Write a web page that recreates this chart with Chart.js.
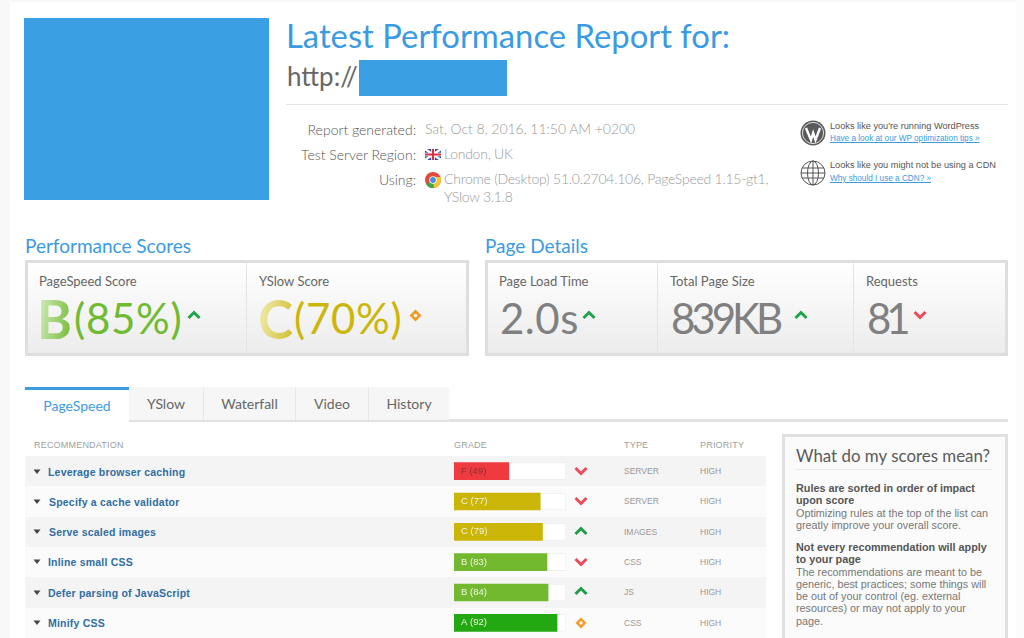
<!DOCTYPE html>
<html>
<head>
<meta charset="utf-8">
<title>Latest Performance Report</title>
<script src="https://cdn.jsdelivr.net/npm/chart.js@4"></script>
<style>
  html, body { margin: 0; padding: 0; background: #fff; overflow: hidden; }
  #page { position: relative; width: 1024px; height: 638px; overflow: hidden; font-family: Lato, "Open Sans", sans-serif; }
  .a { position: absolute; white-space: nowrap; line-height: 1; }
  .box { position: absolute; box-sizing: border-box; }
  .panel { position: absolute; box-sizing: border-box; top: 260px; height: 96px; border: 3px solid #dedede; background: linear-gradient(#ffffff, #ececec); }
  .sep { position: absolute; top: 263px; height: 90px; width: 1px; background: #e4e4e4; }
  .blue { color: #3b9be2; }
  .lbl { font-size: 13px; color: #666; top: 275px; }
  .big { font-size: 42px; top: 297px; font-weight: 400; color: #808080; }
  .meta-l { font-size: 14px; color: #555; text-align: right; right: 608px; font-weight: 300; }
  .meta-v { font-size: 14px; color: #9a9a9a; font-weight: 300; letter-spacing: -0.25px; }
  .tab { position: absolute; top: 387px; height: 33px; box-sizing: border-box; background: #f6f6f6; border-right: 1px solid #e8e8e8; color: #666; font-size: 14px; text-align: center; line-height: 33px; }
  .th { font: 9px "Liberation Sans", Arial, sans-serif; color: #a0a0a0; top: 440px; letter-spacing: 0.2px; }
  .row { position: absolute; left: 25px; width: 741px; height: 30.33px; }
  .rule { font: bold 10.5px "Liberation Sans", Arial, sans-serif; color: #2f6ea3; letter-spacing: 0.2px; }
  .cell { font: 8.5px "Liberation Sans", Arial, sans-serif; color: #999; }
  .side { font: 10.8px/12.25px "Liberation Sans", Arial, sans-serif; color: #777; left: 796px; white-space: nowrap; position: absolute; }
  .side b { color: #555; }
  .note { font-size: 9.2px; color: #555; font-family: "Liberation Sans", Arial, sans-serif; }
  .note-link { font-size: 8.2px; color: #3b9be2; text-decoration: underline; font-family: "Liberation Sans", Arial, sans-serif; }
</style>
</head>
<body>
<div id="page">
  <div class="box" style="left:0;top:0;width:10px;height:638px;background:#f8f8f8"></div>
  <div class="box" style="left:1016px;top:0;width:8px;height:638px;background:#fcfcfc"></div>
  <div class="box" style="left:10px;top:0;width:1006px;height:2px;background:#f8f8f8"></div>

  <div class="box" style="left:24px;top:18px;width:245px;height:182px;background:#3a9fe3"></div>
  <div class="a blue" style="left:286px;top:20px;font-size:32.8px;font-weight:400">Latest Performance Report for:</div>
  <div class="a" style="left:287px;top:63px;font-size:26px;color:#666;font-weight:400">http://</div>
  <div class="box" style="left:359px;top:60px;width:148px;height:36px;background:#3a9fe3"></div>
  <div class="box" style="left:286px;top:104px;width:722px;height:1px;background:#e6e6e6"></div>

  <div class="a meta-l" style="top:123px">Report generated:</div>
  <div class="a meta-l" style="top:148px">Test Server Region:</div>
  <div class="a meta-l" style="top:173px">Using:</div>
  <div class="a meta-v" style="left:425px;top:122px;letter-spacing:-0.05px">Sat, Oct 8, 2016, 11:50 AM +0200</div>
  <svg class="a" style="left:425px;top:149px" width="16" height="11" viewBox="0 0 16 11">
    <rect width="16" height="11" fill="#2d4f9e"/>
    <path d="M0 0L16 11M16 0L0 11" stroke="#fff" stroke-width="2.4"/>
    <path d="M8 0V11M0 5.5H16" stroke="#fff" stroke-width="3.6"/>
    <path d="M8 0V11M0 5.5H16" stroke="#d8303c" stroke-width="2"/>
  </svg>
  <div class="a meta-v" style="left:444px;top:147px">London, UK</div>
  <svg class="a" style="left:425px;top:172px" width="16" height="16" viewBox="0 0 16 16">
    <circle cx="8" cy="8" r="8" fill="#e24a3b"/>
    <path d="M8 8L1 12A8 8 0 0 0 9 16Z" fill="#3da54a"/>
    <path d="M8 8L9 16A8 8 0 0 0 15.5 5H8Z" fill="#f4c430"/>
    <circle cx="8" cy="8" r="3.8" fill="#fff"/>
    <circle cx="8" cy="8" r="2.9" fill="#4a8be0"/>
  </svg>
  <div class="a meta-v" style="left:444px;top:172px">Chrome (Desktop) 51.0.2704.106, PageSpeed 1.15-gt1,</div>
  <div class="a meta-v" style="left:444px;top:190px">YSlow 3.1.8</div>

  <svg class="a" style="left:800px;top:120px" width="26" height="26" viewBox="0 0 26 26">
    <circle cx="13" cy="13" r="12.5" fill="#5a5a5a"/>
    <circle cx="13" cy="13" r="10.6" fill="none" stroke="#fff" stroke-width="0.8"/>
    <path d="M6 8L11 20L13.2 13L15.5 20L20 8" fill="none" stroke="#fff" stroke-width="2.4"/>
  </svg>
  <div class="a note" style="left:830px;top:122px">Looks like you're running WordPress</div>
  <div class="a note-link" style="left:830px;top:135px">Have a look at our WP optimization tips »</div>
  <svg class="a" style="left:800px;top:160px" width="26" height="26" viewBox="0 0 26 26" fill="none" stroke="#555" stroke-width="1">
    <circle cx="13" cy="13" r="12"/>
    <ellipse cx="13" cy="13" rx="5.5" ry="12"/>
    <path d="M13 1V25M2 8H24M1 13H25M2 18H24"/>
  </svg>
  <div class="a note" style="left:830px;top:161px">Looks like you might not be using a CDN</div>
  <div class="a note-link" style="left:830px;top:175px">Why should I use a CDN? »</div>

  <div class="a blue" style="left:25px;top:236px;font-size:19px">Performance Scores</div>
  <div class="panel" style="left:25px;width:444px"></div>
  <div class="sep" style="left:246px"></div>
  <div class="a lbl" style="left:39px">PageSpeed Score</div>
  <div class="a lbl" style="left:259px">YSlow Score</div>
  <div class="a" style="left:37px;top:292px;font-size:53px;font-weight:700;color:transparent;background:linear-gradient(100deg,#dbeec6,#6fb92f);-webkit-background-clip:text;background-clip:text">B</div>
  <div class="a big" style="left:74px;color:#6fbb32;letter-spacing:0.7px">(85%)</div>
  <div class="a" style="left:258px;top:292px;font-size:53px;font-weight:700;color:transparent;background:linear-gradient(100deg,#f3efb8,#cfbd2c);-webkit-background-clip:text;background-clip:text">C</div>
  <div class="a big" style="left:294px;color:#cdb60a;letter-spacing:0.7px">(70%)</div>
  <svg class="a" style="left:187px;top:310px" width="14" height="10"><path d="M1.5 8L7 2.5L12.5 8" fill="none" stroke="#1fa34a" stroke-width="3"/></svg>
  <svg class="a" style="left:409px;top:309px" width="13" height="13"><path d="M6.5 0.5L12.5 6.5L6.5 12.5L0.5 6.5Z" fill="#f59a23"/><circle cx="6.5" cy="6.5" r="1.8" fill="#fff"/></svg>

  <div class="a blue" style="left:485px;top:236px;font-size:19px">Page Details</div>
  <div class="panel" style="left:485px;width:523px"></div>
  <div class="sep" style="left:657px"></div>
  <div class="sep" style="left:853px"></div>
  <div class="a lbl" style="left:499px">Page Load Time</div>
  <div class="a lbl" style="left:670px">Total Page Size</div>
  <div class="a lbl" style="left:866px">Requests</div>
  <div class="a big" style="left:500px;letter-spacing:0.5px">2.0s</div>
  <div class="a big" style="left:671px;letter-spacing:-4px">839KB</div>
  <div class="a big" style="left:867px;letter-spacing:-5px">81</div>
  <svg class="a" style="left:582px;top:310px" width="14" height="10"><path d="M1.5 8L7 2.5L12.5 8" fill="none" stroke="#1fa34a" stroke-width="3"/></svg>
  <svg class="a" style="left:794px;top:310px" width="14" height="10"><path d="M1.5 8L7 2.5L12.5 8" fill="none" stroke="#1fa34a" stroke-width="3"/></svg>
  <svg class="a" style="left:913px;top:310px" width="14" height="10"><path d="M1.5 2L7 7.5L12.5 2" fill="none" stroke="#f0495a" stroke-width="3"/></svg>

  <div class="box" style="left:129px;top:419px;width:879px;height:3px;background:#e2e2e2"></div>
  <div class="tab" style="left:25px;width:104px;background:#fff;border-top:3px solid #3b9be2;border-right:none;color:#3b9be2;line-height:31px">PageSpeed</div>
  <div class="tab" style="left:129px;width:75px">YSlow</div>
  <div class="tab" style="left:204px;width:92px">Waterfall</div>
  <div class="tab" style="left:296px;width:73px">Video</div>
  <div class="tab" style="left:369px;width:80px;border-right:none">History</div>

  <div class="a th" style="left:34px">RECOMMENDATION</div>
  <div class="a th" style="left:454px">GRADE</div>
  <div class="a th" style="left:624px">TYPE</div>
  <div class="a th" style="left:700px">PRIORITY</div>

  <div id="rows"></div>
  <canvas id="gradeChart" width="112" height="182" style="position:absolute;left:454px;top:456px"></canvas>

  <div class="box" style="left:782px;top:434px;width:226px;height:220px;border:3px solid #e0e0e0;background:#fbfbfb"></div>
  <div class="a" style="left:796px;top:448px;font-size:16.9px;color:#5a5a5a">What do my scores mean?</div>
  <div class="box" style="left:796px;top:469px;width:196px;height:1px;background:#e8e8e8"></div>
  <div class="side" style="top:482px"><b>Rules are sorted in order of impact<br>upon score</b><br>Optimizing rules at the top of the list can<br>greatly improve your overall score.</div>
  <div class="side" style="top:541px"><b>Not every recommendation will apply<br>to your page</b><br>The recommendations are meant to be<br>generic, best practices; some things will<br>be out of your control (eg. external<br>resources) or may not apply to your<br>page.</div>
</div>

<script>
// Recommandations et notes
const rules = ["Leverage browser caching", "Specify a cache validator", "Serve scaled images", "Inline small CSS", "Defer parsing of JavaScript", "Minify CSS"];
const grades = ["F", "C", "C", "B", "B", "A"];
const scores = [49, 77, 79, 83, 84, 92];
const fullScale = [100, 100, 100, 100, 100, 100];
const types = ["SERVER", "SERVER", "IMAGES", "CSS", "JS", "CSS"];
const priorities = ["HIGH", "HIGH", "HIGH", "HIGH", "HIGH", "HIGH"];
const trends = ["down", "down", "up", "down", "up", "flat"];

const gradeColors = { A: "#22a810", B: "#72b92f", C: "#cbb507", F: "#ef3b40" };
const trendIcons = {
  up: '<path d="M1.5 8L7 2.5L12.5 8" fill="none" stroke="#1f9d4b" stroke-width="3"/>',
  down: '<path d="M1.5 3L7 8.5L12.5 3" fill="none" stroke="#f0495a" stroke-width="3"/>',
  flat: '<path d="M7 0.5L12.5 6L7 11.5L1.5 6Z" fill="#f59a23"/><circle cx="7" cy="6" r="1.7" fill="#fff"/>',
};

// Lignes du tableau
const rowsEl = document.getElementById("rows");
let html = "";
rules.forEach((rule, i) => {
  const top = 456 + i * 30.33;
  const ruleLeft = i === 1 || i === 2 ? 49 : 48;
  html += `<div class="row" style="top:${top}px;background:${i % 2 ? "#fbfbfb" : "#f4f4f4"}"></div>`;
  html += `<svg class="a" style="left:33px;top:${top + 12.5}px" width="8" height="6"><path d="M0.5 0.5H7.5L4 5Z" fill="#444"/></svg>`;
  html += `<div class="a rule" style="left:${ruleLeft}px;top:${top + 9.5}px">${rule}</div>`;
  html += `<svg class="a" style="left:574px;top:${top + 9}px" width="14" height="12">${trendIcons[trends[i]]}</svg>`;
  html += `<div class="a cell" style="left:624px;top:${top + 10}px">${types[i]}</div>`;
  html += `<div class="a cell" style="left:700px;top:${top + 10}px">${priorities[i]}</div>`;
});
rowsEl.innerHTML = html;

// Texte de la note dans chaque barre
const barLabels = {
  id: "barLabels",
  afterDatasetsDraw(chart) {
    const ctx = chart.ctx;
    ctx.save();
    ctx.font = '9.5px "Liberation Sans", Arial, sans-serif';
    ctx.textBaseline = "middle";
    chart.getDatasetMeta(0).data.forEach((bar, i) => {
      ctx.fillStyle = grades[i] === "F" ? "#8c2b30" : "#f4f4e4";
      ctx.fillText(`${grades[i]} (${scores[i]})`, chart.scales.x.left + 7, bar.y);
    });
    ctx.restore();
  },
};

new Chart(document.getElementById("gradeChart"), {
  type: "bar",
  data: {
    labels: rules,
    datasets: [
      {
        data: scores,
        backgroundColor: grades.map((g) => gradeColors[g]),
        grouped: false,
        order: 0,
        barThickness: 17,
      },
      {
        data: fullScale,
        backgroundColor: "#ffffff",
        borderColor: "#efefef",
        borderWidth: 1,
        grouped: false,
        order: 1,
        barThickness: 17,
      },
    ],
  },
  options: {
    indexAxis: "y",
    responsive: false,
    animation: false,
    events: [],
    plugins: { legend: { display: false }, tooltip: { enabled: false } },
    scales: {
      x: { display: false, min: 0, max: 100 },
      y: { display: false },
    },
  },
  plugins: [barLabels],
});
</script>
</body>
</html>
